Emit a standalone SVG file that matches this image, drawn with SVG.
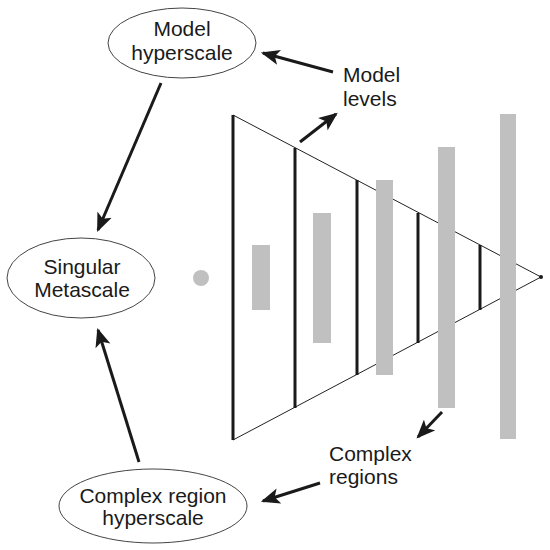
<svg xmlns="http://www.w3.org/2000/svg" width="550" height="550" viewBox="0 0 550 550">
<style>
.node{fill:#fff;stroke:#444;stroke-width:1}
.t{font-family:"Liberation Sans",Arial,sans-serif;font-size:21px;fill:#1a1a1a}
.m{text-anchor:middle}
.conn{stroke:#1a1a1a;stroke-width:3;fill:none;marker-end:url(#ah)}
.lvl{stroke:#1a1a1a;stroke-width:3}
.reg{fill:#c0c0c0}
.edge{stroke:#222;stroke-width:1;fill:none}
</style>
<defs>
<marker id="ah" markerUnits="userSpaceOnUse" markerWidth="20" markerHeight="16" viewBox="0 0 18 14" refX="15" refY="7" orient="auto">
<path d="M0,0 L17,7 L0,14 L4,7 Z" fill="#1a1a1a"/>
</marker>
</defs>
<rect width="550" height="550" fill="#fff"/>
<g id="pyramid">
<path class="edge" d="M233,115 L541,277 L233,440"/>
<line class="lvl" x1="233" y1="115" x2="233" y2="440"/>
<line class="lvl" x1="295" y1="148" x2="295" y2="408"/>
<line class="lvl" x1="357" y1="180" x2="357" y2="375"/>
<line class="lvl" x1="418" y1="213" x2="418" y2="343"/>
<line class="lvl" x1="480" y1="245" x2="480" y2="310"/>
<circle cx="541" cy="277" r="2" fill="#1a1a1a"/>
</g>
<g id="regions">
<circle cx="201" cy="278" r="8" fill="#c0c0c0"/>
<rect class="reg" x="252" y="245" width="18" height="65"/>
<rect class="reg" x="313" y="213" width="18" height="130"/>
<rect class="reg" x="376" y="180" width="17" height="195"/>
<rect class="reg" x="438" y="147" width="17" height="261"/>
<rect class="reg" x="500" y="114" width="16" height="325"/>
</g>
<g id="model-hyperscale">
<ellipse class="node" cx="182" cy="43" rx="74" ry="35"/>
<text class="t m" x="182" y="36">Model</text>
<text class="t m" x="182" y="60">hyperscale</text>
</g>
<g id="singular-metascale">
<ellipse class="node" cx="81" cy="278" rx="74" ry="40"/>
<text class="t m" x="82" y="274">Singular</text>
<text class="t m" x="82" y="297">Metascale</text>
</g>
<g id="complex-region-hyperscale">
<ellipse class="node" cx="153" cy="506" rx="94" ry="37"/>
<text class="t m" x="153" y="503">Complex region</text>
<text class="t m" x="153" y="525">hyperscale</text>
</g>
<g id="label-model-levels">
<text class="t" x="343" y="82">Model</text>
<text class="t" x="343" y="106">levels</text>
</g>
<g id="label-complex-regions">
<text class="t" x="329" y="461">Complex</text>
<text class="t" x="329" y="484">regions</text>
</g>
<g id="connectors">
<line class="conn" x1="333" y1="72" x2="263" y2="53"/>
<line class="conn" x1="300" y1="142" x2="336" y2="114"/>
<line class="conn" x1="161" y1="83" x2="98" y2="230"/>
<line class="conn" x1="139" y1="462" x2="98" y2="330"/>
<line class="conn" x1="442" y1="412" x2="418" y2="437"/>
<line class="conn" x1="320" y1="483" x2="263" y2="501"/>
</g>
</svg>
